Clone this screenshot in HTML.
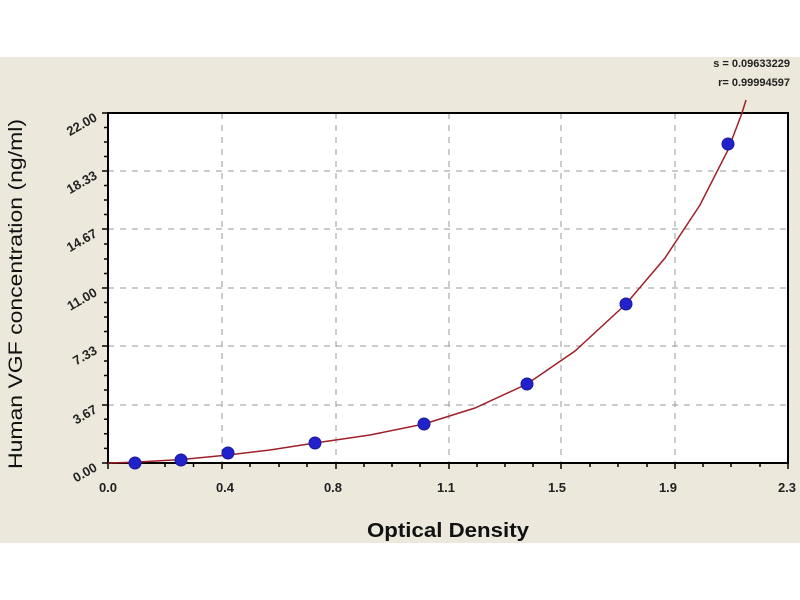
<!DOCTYPE html>
<html><head><style>html,body{margin:0;padding:0;background:#fff}svg{display:block}</style></head><body>
<svg width="800" height="600" xmlns="http://www.w3.org/2000/svg" font-family="Liberation Sans, sans-serif">
<rect x="0" y="57" width="800" height="486" fill="#ece9dc"/>
<rect x="108" y="113" width="680" height="350" fill="#fff"/>
<g stroke="#999" stroke-dasharray="6,6" stroke-width="1">
<line x1="222" y1="113" x2="222" y2="463"/><line x1="336" y1="113" x2="336" y2="463"/>
<line x1="449" y1="113" x2="449" y2="463"/><line x1="561" y1="113" x2="561" y2="463"/>
<line x1="675" y1="113" x2="675" y2="463"/>
<line x1="108" y1="171" x2="788" y2="171"/><line x1="108" y1="229" x2="788" y2="229"/>
<line x1="108" y1="288" x2="788" y2="288"/><line x1="108" y1="346" x2="788" y2="346"/>
<line x1="108" y1="405" x2="788" y2="405"/>
</g>
<rect x="108" y="113" width="680" height="350" fill="none" stroke="#000" stroke-width="2"/>
<g stroke="#000" stroke-width="1.5">
<path d="M108 463v6M136.5 463v4M165 463v4M193.5 463v4M222 463v6M250 463v4M279 463v4M307 463v4M336 463v6M364 463v4M392 463v4M420 463v4M449 463v6M477 463v4M505 463v4M533 463v4M561 463v6M590 463v4M618 463v4M647 463v4M675 463v6M703 463v4M731 463v4M760 463v4M788 463v6"/>
<path d="M102 463h6M104 448.4h4M104 433.8h4M104 419.2h4M102 405h6M104 390h4M104 375.5h4M104 361h4M102 346h6M104 331.5h4M104 317h4M104 302.5h4M102 288h6M104 273.5h4M104 259h4M104 244h4M102 229h6M104 214.5h4M104 200h4M104 185.5h4M102 171h6M104 156.5h4M104 142h4M104 127.5h4M102 113h6"/>
</g>
<path d="M108 463 L138 462 L182 459.5 L228 455 L270 450 L315 443 L370 435 L424 424 L475 408 L527 384 L575 351 L626 304 L665 258 L700 205 L728 150 L742 113 L746 100" fill="none" stroke="#a0202a" stroke-width="1.5"/>
<g fill="#2222cc" stroke="#1a1a99">
<circle cx="135" cy="463" r="6"/><circle cx="181" cy="460" r="6"/><circle cx="228" cy="453" r="6"/>
<circle cx="315" cy="443" r="6"/><circle cx="424" cy="424" r="6"/><circle cx="527" cy="384" r="6"/>
<circle cx="626" cy="304" r="6"/><circle cx="728" cy="144" r="6"/>
</g>
<g font-size="13" font-weight="bold" fill="#222" text-anchor="middle">
<text x="108" y="492">0.0</text><text x="225" y="492">0.4</text><text x="333" y="492">0.8</text>
<text x="446" y="492">1.1</text><text x="557" y="492">1.5</text><text x="668" y="492">1.9</text><text x="787" y="492">2.3</text>
</g>
<g font-size="13" font-weight="bold" fill="#222" text-anchor="end">
<text transform="translate(98,470) rotate(-30)">0.00</text>
<text transform="translate(98,412) rotate(-30)">3.67</text>
<text transform="translate(98,353) rotate(-30)">7.33</text>
<text transform="translate(98,295) rotate(-30)">11.00</text>
<text transform="translate(98,236) rotate(-30)">14.67</text>
<text transform="translate(98,178) rotate(-30)">18.33</text>
<text transform="translate(98,120) rotate(-30)">22.00</text>
</g>
<text x="448" y="537" font-size="20" font-weight="bold" text-anchor="middle" fill="#111" textLength="162" lengthAdjust="spacingAndGlyphs">Optical Density</text>
<text transform="translate(22,294) rotate(-90)" font-size="19" text-anchor="middle" fill="#111" textLength="350" lengthAdjust="spacingAndGlyphs">Human VGF concentration (ng/ml)</text>
<text x="790" y="67" font-size="11" font-weight="bold" text-anchor="end" fill="#222">s = 0.09633229</text>
<text x="790" y="86" font-size="11" font-weight="bold" text-anchor="end" fill="#222">r= 0.99994597</text>
</svg>
</body></html>
